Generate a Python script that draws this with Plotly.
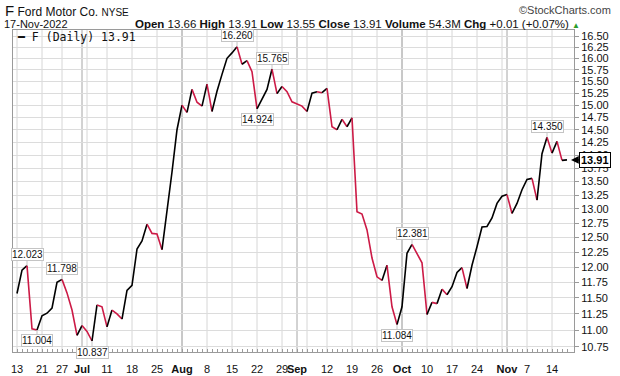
import math
import plotly.graph_objects as go

# ---------------- data ----------------
trading_days = {
    "2022-06": [13, 14, 15, 16, 17, 21, 22, 23, 24, 27, 28, 29, 30],
    "2022-07": [1, 5, 6, 7, 8, 11, 12, 13, 14, 15, 18, 19, 20, 21, 22, 25, 26, 27, 28, 29],
    "2022-08": [1, 2, 3, 4, 5, 8, 9, 10, 11, 12, 15, 16, 17, 18, 19, 22, 23, 24, 25, 26, 29, 30, 31],
    "2022-09": [1, 2, 6, 7, 8, 9, 12, 13, 14, 15, 16, 19, 20, 21, 22, 23, 26, 27, 28, 29, 30],
    "2022-10": [3, 4, 5, 6, 7, 10, 11, 12, 13, 14, 17, 18, 19, 20, 21, 24, 25, 26, 27, 28, 31],
    "2022-11": [1, 2, 3, 4, 7, 8, 9, 10, 11, 14, 15, 16, 17],
}
dates = [f"{m}-{d:02d}" for m, ds in trading_days.items() for d in ds]

closes = [
    11.57, 11.95, 12.023, 11.02, 11.004, 11.22, 11.26, 11.34, 11.75, 11.798,
    11.58, 11.31, 10.92, 11.07, 10.98, 10.837, 11.39, 11.36, 11.05, 11.31,
    11.25, 11.17, 11.62, 11.70, 12.30, 12.44, 12.73, 12.57, 12.56, 12.29,
    12.95, 13.68, 14.50, 15.00, 14.85, 15.33, 15.06, 14.98, 15.44, 14.87,
    15.29, 15.65, 16.00, 16.12, 16.26, 15.87, 15.95, 15.71, 14.924, 15.14,
    15.33, 15.765, 15.24, 15.39, 15.28, 15.07, 15.02, 14.98, 14.87, 15.25,
    15.28, 15.26, 15.35, 14.56, 14.50, 14.71, 14.56, 14.74, 12.95, 12.91,
    12.63, 12.15, 11.84, 11.78, 12.03, 11.36, 11.084, 11.36, 12.23, 12.381,
    12.22, 12.07, 11.24, 11.43, 11.41, 11.64, 11.55, 11.68, 11.91, 11.99,
    11.65, 12.03, 12.34, 12.68, 12.69, 12.84, 13.10, 13.23, 13.26, 12.92,
    13.10, 13.35, 13.54, 13.56, 13.16, 14.03, 14.35, 14.04, 14.27, 13.90,
    13.91,
]

label_dates = ["2022-06-13", "2022-06-21", "2022-06-27", "2022-07-01", "2022-07-11",
               "2022-07-18", "2022-07-25", "2022-08-01", "2022-08-08", "2022-08-15",
               "2022-08-22", "2022-08-29", "2022-09-01", "2022-09-12", "2022-09-19",
               "2022-09-26", "2022-10-03", "2022-10-10", "2022-10-17", "2022-10-24",
               "2022-11-01", "2022-11-07", "2022-11-14"]
label_texts = ["13", "21", "27", "<b>Jul</b>", "11", "18", "25", "<b>Aug</b>", "8", "15",
               "22", "29", "<b>Sep</b>", "12", "19", "26", "<b>Oct</b>", "10", "17", "24",
               "<b>Nov</b>", "7", "14"]
week_grid_dates = ["2022-06-13", "2022-06-21", "2022-06-27", "2022-07-05", "2022-07-11",
                   "2022-07-18", "2022-07-25", "2022-08-01", "2022-08-08", "2022-08-15",
                   "2022-08-22", "2022-08-29", "2022-09-06", "2022-09-12", "2022-09-19",
                   "2022-09-26", "2022-10-03", "2022-10-10", "2022-10-17", "2022-10-24",
                   "2022-10-31", "2022-11-07", "2022-11-14"]
month_grid_dates = ["2022-07-01", "2022-08-01", "2022-09-01", "2022-10-03", "2022-11-01"]

y_ticks = [10.75, 11.00, 11.25, 11.50, 11.75, 12.00, 12.25, 12.50, 12.75, 13.00, 13.25,
           13.50, 13.75, 14.00, 14.25, 14.50, 14.75, 15.00, 15.25, 15.50, 15.75, 16.00,
           16.25, 16.50]

marked_dates = ["2022-06-15", "2022-06-17", "2022-06-27", "2022-07-06", "2022-08-16",
                "2022-08-22", "2022-08-25", "2022-09-30", "2022-10-05", "2022-11-11"]

ticker = "F"
company = "Ford Motor Co."
exchange = "NYSE"
quote_date = "17-Nov-2022"
q_open, q_high, q_low, q_close = 13.66, 13.91, 13.55, 13.91
q_volume = "54.3M"
q_chg, q_chg_pct = 0.01, 0.07

# ---------------- styling ----------------
FONT = "Liberation Sans, Arial, sans-serif"
MONO = "DejaVu Sans Mono, monospace"
UP_COLOR = "#000000"
DOWN_COLOR = "#cc1a46"

fig = go.Figure()

# up / down coloured runs
n = len(closes)
runs = []
start = 1
for i in range(2, n + 1):
    if i == n or (closes[i] >= closes[i - 1]) != (closes[start] >= closes[start - 1]):
        runs.append((start - 1, i - 1, closes[start] >= closes[start - 1]))
        start = i
for a, b, up in runs:
    fig.add_trace(go.Scatter(
        x=dates[a:b + 1], y=closes[a:b + 1], mode="lines",
        line=dict(color=UP_COLOR if up else DOWN_COLOR, width=1.6),
        hoverinfo="skip", showlegend=False))

# gridlines
shapes = []
for d in week_grid_dates:
    shapes.append(dict(type="line", xref="x", yref="paper", x0=d, x1=d, y0=0, y1=1,
                       line=dict(color="#d6d6d6", width=1), layer="below"))
for d in month_grid_dates:
    shapes.append(dict(type="line", xref="x", yref="paper", x0=d, x1=d, y0=0, y1=1,
                       line=dict(color="#a6a6a6", width=1), layer="below"))

# pixel -> paper helpers for page furniture
PL, PR, PT, PB = 13, 574, 30, 352
W, H = PR - PL, PB - PT


def px(x):
    return (x - PL) / W


def py(y):
    return (PB - y) / H


annotations = []
# value call-outs
for d in marked_dates:
    i = dates.index(d)
    v = closes[i]
    above = v >= closes[max(i - 1, 0)] and v >= closes[min(i + 1, n - 1)]
    annotations.append(dict(
        x=d, y=math.log10(v), xref="x", yref="y", text=f"{v:.3f}",
        showarrow=True, ax=0, ay=-11 if above else 11, arrowhead=0, arrowwidth=1,
        arrowcolor="#c4c4c4", standoff=0,
        font=dict(family=FONT, size=10, color="#111"),
        bgcolor="white", bordercolor="#c4c4c4", borderwidth=1, borderpad=0))

# last price tag
annotations.append(dict(
    x=1, xref="paper", y=math.log10(closes[-1]), yref="y", xshift=-3,
    text=f"<b>{closes[-1]:.2f}</b>", showarrow=True, ax=24, ay=0,
    arrowhead=2, arrowsize=1.3, arrowwidth=1.2, arrowcolor="black", standoff=0,
    font=dict(family=FONT, size=11, color="black"),
    bgcolor="white", bordercolor="black", borderwidth=1, borderpad=1))

# header
annotations += [
    dict(x=px(3), y=py(10), xref="paper", yref="paper", xanchor="left", yanchor="middle",
         showarrow=False,
         text=f"<span style='font-size:15px'>{ticker}</span> {company} "
              f"<span style='font-size:10px'>{exchange}</span>",
         font=dict(family=FONT, size=12, color="#111")),
    dict(x=px(613), y=py(10), xref="paper", yref="paper", xanchor="right", yanchor="middle",
         showarrow=False, text="©StockCharts.com",
         font=dict(family=FONT, size=11, color="#444")),
    dict(x=px(2), y=py(24), xref="paper", yref="paper", xanchor="left", yanchor="middle",
         showarrow=False, text=quote_date, font=dict(family=FONT, size=11, color="#111")),
    dict(x=px(133), y=py(24), xref="paper", yref="paper", xanchor="left", yanchor="middle",
         showarrow=False,
         text=(f"<b>Open</b> {q_open:.2f} <b>High</b> {q_high:.2f} <b>Low</b> {q_low:.2f} "
               f"<b>Close</b> {q_close:.2f} <b>Volume</b> {q_volume} "
               f"<b>Chg</b> {q_chg:+.2f} ({q_chg_pct:+.2f}%) "
               f"<span style='color:#2a9d2a;font-size:8px'>▲</span>"),
         font=dict(family=FONT, size=11.5, color="#111")),
    dict(x=px(15), y=py(37), xref="paper", yref="paper", xanchor="left", yanchor="middle",
         showarrow=False, text=f"<b>━</b> {ticker} (Daily) {closes[-1]:.2f}",
         font=dict(family=MONO, size=11.5, color="#111")),
]

fig.update_layout(
    width=620, height=376,
    margin=dict(l=PL, r=620 - PR, t=PT, b=376 - PB, pad=0, autoexpand=False),
    paper_bgcolor="white", plot_bgcolor="white",
    shapes=shapes, annotations=annotations, showlegend=False,
    font=dict(family=FONT, size=11, color="#111"),
)
fig.update_xaxes(
    type="category", range=[-0.8, 111.4], automargin=False,
    tickmode="array", tickvals=dates,
    ticktext=[label_texts[label_dates.index(d)] if d in label_dates else "" for d in dates],
    ticks="inside", ticklen=3, tickcolor="#9a9a9a", tickangle=0, ticklabelstandoff=7,
    showgrid=False, zeroline=False, showline=True, linecolor="#9a9a9a", mirror=True,
    tickfont=dict(family=FONT, size=11, color="#111"),
)
fig.update_yaxes(
    type="log", range=[math.log10(10.674), math.log10(16.637)], side="right",
    automargin=False,
    tickmode="array", tickvals=y_ticks, ticktext=[f"{v:.2f}" for v in y_ticks],
    ticks="outside", ticklen=4, tickcolor="#9a9a9a",
    showgrid=True, gridcolor="#dcdcdc", gridwidth=1, zeroline=False,
    showline=True, linecolor="#9a9a9a", mirror=True,
    tickfont=dict(family=FONT, size=11, color="#111"),
)

fig.write_html("out.html", config={"displayModeBar": False},
               post_script="document.body.style.margin='0';")
